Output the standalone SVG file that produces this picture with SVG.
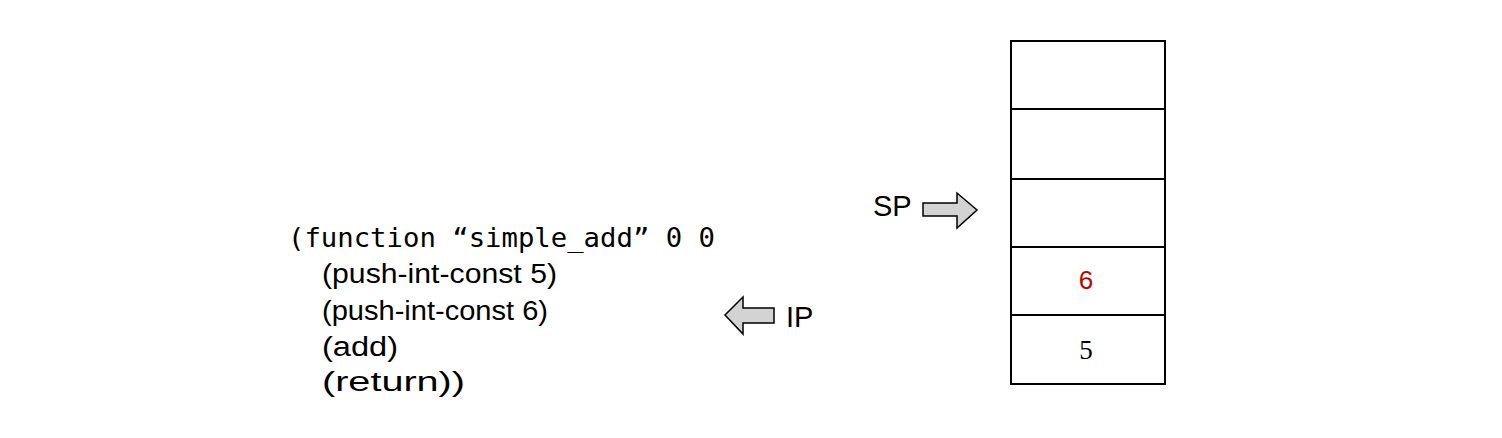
<svg xmlns="http://www.w3.org/2000/svg" width="1502" height="438" viewBox="0 0 1502 438">
<style>
.cell{fill:#fff;stroke:#000;stroke-width:2}
.arrow{fill:#d3d3d3;stroke:#000;stroke-width:1.5;stroke-linejoin:miter}
.code{font-family:"Liberation Sans","Noto Sans",sans-serif;font-size:27px;fill:#000}
.mono{font-family:"DejaVu Sans Mono","Liberation Mono",monospace;font-size:27px;fill:#000}
.lbl{font-family:"Liberation Sans",Arial,sans-serif;font-size:29px;fill:#000}
</style>
<rect width="1502" height="438" fill="#fff"/>
<g id="code">
<text class="mono" x="288" y="247" textLength="427" lengthAdjust="spacingAndGlyphs">(function “simple_add” 0 0</text>
<text class="code" x="322" y="283" textLength="235" lengthAdjust="spacingAndGlyphs">(push-int-const  5)</text>
<text class="code" x="322" y="320" textLength="226" lengthAdjust="spacingAndGlyphs">(push-int-const 6)</text>
<text class="code" x="322" y="356" textLength="76" lengthAdjust="spacingAndGlyphs">(add)</text>
<text class="code" x="322" y="391" textLength="143" lengthAdjust="spacingAndGlyphs">(return))</text>
</g>
<g id="stack">
<rect class="cell" x="1011" y="41" width="154" height="68"/>
<rect class="cell" x="1011" y="109" width="154" height="70"/>
<rect class="cell" x="1011" y="179" width="154" height="68"/>
<rect class="cell" x="1011" y="247" width="154" height="68"/>
<rect class="cell" x="1011" y="315" width="154" height="69"/>
<text x="1086" y="289" text-anchor="middle" font-family="'Liberation Sans',sans-serif" font-size="26" fill="#c00000">6</text>
<text x="1086" y="359" text-anchor="middle" font-family="'Liberation Serif',serif" font-size="27" fill="#000">5</text>
</g>
<g id="sp">
<text class="lbl" x="873" y="216">SP</text>
<path class="arrow" d="M923,203 H957 V193 L977,210 L957,228 V216 H923 Z"/>
</g>
<g id="ip">
<path class="arrow" d="M774,308 H743 V297 L725,315 L743,334 V323 H774 Z"/>
<text class="lbl" x="786" y="327">IP</text>
</g>
</svg>
